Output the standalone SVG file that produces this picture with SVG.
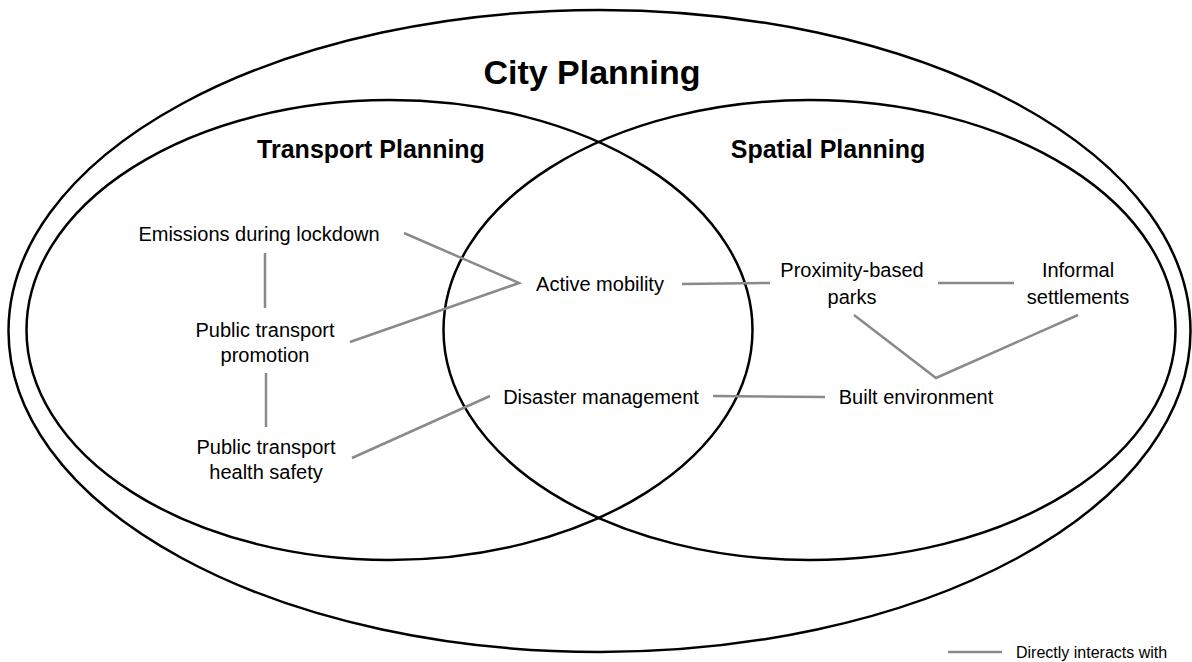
<svg xmlns="http://www.w3.org/2000/svg" width="1192" height="662" viewBox="0 0 1192 662">
  <style>
    .area { fill: none; stroke: #000; stroke-width: 2.5; }
    .head { font-family: "Liberation Sans", Arial, sans-serif; font-weight: bold; fill: #000; text-anchor: middle; }
    .lbl { font-family: "Liberation Sans", Arial, sans-serif; font-size: 20px; fill: #000; text-anchor: middle; }
    .link { stroke: #8a8a8a; stroke-width: 2.5; fill: none; stroke-linejoin: miter; }
    .legend { font-family: "Liberation Sans", Arial, sans-serif; font-size: 16px; fill: #000; }
  </style>
  <rect width="1192" height="662" fill="#fff"/>

  <!-- planning domains -->
  <g id="city-planning">
    <ellipse class="area" cx="599.5" cy="331" rx="591" ry="321"/>
    <text class="head" x="592" y="84" font-size="34">City Planning</text>
  </g>
  <g id="transport-planning">
    <ellipse class="area" cx="389.5" cy="330" rx="363" ry="230"/>
    <text class="head" x="371" y="158" font-size="25">Transport Planning</text>
  </g>
  <g id="spatial-planning">
    <ellipse class="area" cx="809.5" cy="330" rx="366" ry="230"/>
    <text class="head" x="828" y="158" font-size="25">Spatial Planning</text>
  </g>

  <!-- interaction lines -->
  <g id="connectors">
    <polyline class="link" points="404,233 519,283 350,342"/>
    <line class="link" x1="265" y1="253" x2="265" y2="308"/>
    <line class="link" x1="266" y1="373" x2="266" y2="427"/>
    <line class="link" x1="352" y1="458" x2="490" y2="396"/>
    <line class="link" x1="682" y1="284" x2="770" y2="283"/>
    <line class="link" x1="938" y1="283" x2="1014" y2="283"/>
    <polyline class="link" points="854,315 936,378 1078,315"/>
    <line class="link" x1="713" y1="396" x2="825" y2="397"/>
  </g>

  <!-- topics -->
  <g id="emissions-during-lockdown">
    <text class="lbl" x="259" y="241">Emissions during lockdown</text>
  </g>
  <g id="public-transport-promotion">
    <text class="lbl" x="265" y="337">Public transport</text>
    <text class="lbl" x="265" y="362">promotion</text>
  </g>
  <g id="public-transport-health-safety">
    <text class="lbl" x="266" y="454">Public transport</text>
    <text class="lbl" x="266" y="479">health safety</text>
  </g>
  <g id="active-mobility">
    <text class="lbl" x="600" y="291">Active mobility</text>
  </g>
  <g id="disaster-management">
    <text class="lbl" x="601" y="404">Disaster management</text>
  </g>
  <g id="proximity-based-parks">
    <text class="lbl" x="852" y="277">Proximity-based</text>
    <text class="lbl" x="852" y="304">parks</text>
  </g>
  <g id="informal-settlements">
    <text class="lbl" x="1078" y="277">Informal</text>
    <text class="lbl" x="1078" y="304">settlements</text>
  </g>
  <g id="built-environment">
    <text class="lbl" x="916" y="404">Built environment</text>
  </g>

  <!-- key -->
  <g id="legend">
    <line class="link" x1="948" y1="652" x2="1002" y2="652"/>
    <text class="legend" x="1016" y="658">Directly interacts with</text>
  </g>
</svg>
